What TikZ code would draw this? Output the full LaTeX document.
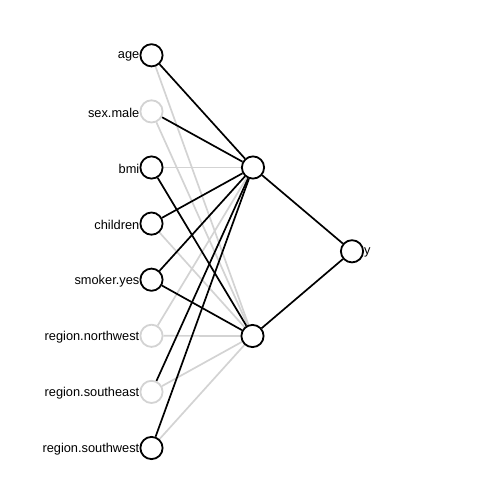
\documentclass[tikz,border=0pt]{standalone}
\usepackage{fontspec}
\setmainfont{Liberation Sans}
\usetikzlibrary{backgrounds}
\definecolor{neg}{HTML}{D3D3D3}
\tikzset{
  neuron/.style={circle, draw=black, fill=white, line width=1.8pt, minimum size=22.2pt, inner sep=0pt},
  negneuron/.style={neuron, draw=neg},
  lab/.style={anchor=east, inner sep=0pt, yshift=-1.5pt, font=\fontsize{12.8}{14}\selectfont},
  posw/.style={draw=black, line width=1.7pt},
  negw/.style={draw=neg, line width=1.7pt},
}
\begin{document}
\begin{tikzpicture}[x=1pt,y=-1pt]
\useasboundingbox (0,0) rectangle (504,504);
\node[neuron] (i1) at (151.5,55.3) {};
\node[negneuron] (i2) at (151.5,111.4) {};
\node[neuron] (i3) at (151.5,167.5) {};
\node[neuron] (i4) at (151.5,223.6) {};
\node[neuron] (i5) at (151.5,279.7) {};
\node[negneuron] (i6) at (151.5,335.8) {};
\node[negneuron] (i7) at (151.5,391.9) {};
\node[neuron] (i8) at (151.5,448) {};
\node[neuron] (h1) at (253,167.5) {};
\node[neuron] (h2) at (252.5,336) {};
\node[neuron] (o) at (352,251.3) {};
\node[lab] (l1) at (i1.west) {age};
\node[lab] (l2) at (i2.west) {sex.male};
\node[lab] (l3) at (i3.west) {bmi};
\node[lab] (l4) at (i4.west) {children};
\node[lab] (l5) at (i5.west) {smoker.yes};
\node[lab] (l6) at (i6.west) {region.northwest};
\node[lab] (l7) at (i7.west) {region.southeast};
\node[lab] (l8) at (i8.west) {region.southwest};
\node[lab, anchor=west] (ly) at (o.east) {y};
\begin{pgfonlayer}{background}
\draw[negw] (i1) -- (h2);
\draw[negw] (i2) -- (h2);
\draw[negw] (i3) -- (h1);
\draw[negw] (i4) -- (h2);
\draw[negw] (i6) -- (h1);
\draw[negw] (i6) -- (h2);
\draw[negw] (i7) -- (h2);
\draw[negw] (i8) -- (h2);
\draw[posw] (i1) -- (h1);
\draw[posw] (i2) -- (h1);
\draw[posw] (i3) -- (h2);
\draw[posw] (i4) -- (h1);
\draw[posw] (i5) -- (h1);
\draw[posw] (i5) -- (h2);
\draw[posw] (i7) -- (h1);
\draw[posw] (i8) -- (h1);
\draw[posw] (h1) -- (o);
\draw[posw] (h2) -- (o);
\end{pgfonlayer}
\end{tikzpicture}
\end{document}
